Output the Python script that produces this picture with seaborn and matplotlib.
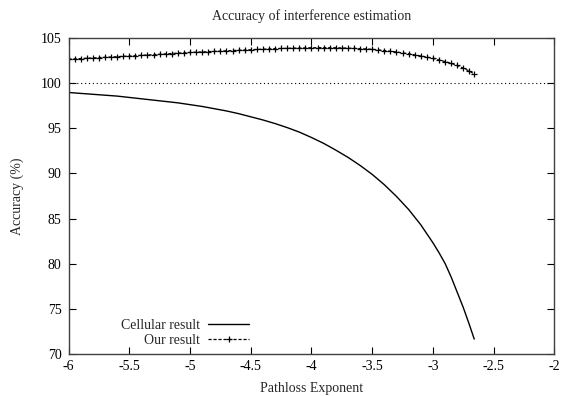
import matplotlib
matplotlib.use("Agg")
import matplotlib.pyplot as plt
import seaborn as sns
import pandas as pd

# Cellular result
cell_x = [-6.0, -5.9, -5.8, -5.7, -5.6, -5.5, -5.4, -5.3, -5.2, -5.1, -5.0,
          -4.9, -4.8, -4.7, -4.6, -4.5, -4.4, -4.3, -4.2, -4.1, -4.0,
          -3.9, -3.8, -3.7, -3.6, -3.5, -3.4, -3.3, -3.2, -3.1, -3.0,
          -2.95, -2.9, -2.85, -2.8, -2.75, -2.7, -2.66]
cell_y = [99.0, 98.9, 98.8, 98.7, 98.6, 98.45, 98.3, 98.15, 98.0, 97.85, 97.65,
          97.45, 97.2, 96.95, 96.65, 96.3, 95.95, 95.55, 95.1, 94.6, 94.0,
          93.35, 92.6, 91.8, 90.9, 89.9, 88.75, 87.45, 86.0, 84.3, 82.3,
          81.2, 80.0, 78.5, 76.8, 75.1, 73.2, 71.6]

# Our result
our_x = [-6.00, -5.95, -5.90, -5.85, -5.80, -5.75, -5.70, -5.65, -5.60, -5.55,
         -5.50, -5.45, -5.40, -5.35, -5.30, -5.25, -5.20, -5.15, -5.10, -5.05,
         -5.00, -4.95, -4.90, -4.85, -4.80, -4.75, -4.70, -4.65, -4.60, -4.55,
         -4.50, -4.45, -4.40, -4.35, -4.30, -4.25, -4.20, -4.15, -4.10, -4.05,
         -4.00, -3.95, -3.90, -3.85, -3.80, -3.75, -3.70, -3.65, -3.60, -3.55,
         -3.50, -3.45, -3.40, -3.35, -3.30, -3.25, -3.20, -3.15, -3.10, -3.05,
         -3.00, -2.95, -2.90, -2.85, -2.80, -2.75, -2.70, -2.66]
our_y = [102.70, 102.74, 102.77, 102.81, 102.84, 102.88, 102.91, 102.95, 102.98, 103.02,
         103.05, 103.09, 103.13, 103.17, 103.21, 103.25, 103.29, 103.33, 103.37, 103.41,
         103.45, 103.48, 103.51, 103.54, 103.57, 103.60, 103.63, 103.66, 103.69, 103.72,
         103.75, 103.78, 103.81, 103.84, 103.87, 103.89, 103.91, 103.93, 103.94, 103.96,
         103.97, 103.98, 103.98, 103.98, 103.97, 103.95, 103.93, 103.90, 103.87, 103.84,
         103.80, 103.73, 103.66, 103.58, 103.50, 103.40, 103.30, 103.18, 103.06, 102.93,
         102.80, 102.62, 102.43, 102.24, 102.00, 101.70, 101.38, 101.05]

ref_level = 100
x_ticks = [-6, -5.5, -5, -4.5, -4, -3.5, -3, -2.5, -2]
x_ticklabels = ["-6", "-5.5", "-5", "-4.5", "-4", "-3.5", "-3", "-2.5", "-2"]
y_ticks = [70, 75, 80, 85, 90, 95, 100, 105]

sns.set_theme(style="ticks")
plt.rcParams["font.family"] = ["Liberation Serif", "DejaVu Serif"]
plt.rcParams["font.size"] = 10

fig = plt.figure(figsize=(5.64, 3.96), dpi=100)
ax = fig.add_axes([0.1215, 0.1073, 0.8615, 0.7955])

df_cell = pd.DataFrame({"x": cell_x, "y": cell_y})
df_our = pd.DataFrame({"x": our_x, "y": our_y})

ax.axhline(ref_level, color="black", lw=0.8, ls=(0, (1, 2.5)), zorder=1)
sns.lineplot(data=df_cell, x="x", y="y", ax=ax, color="black", lw=1.0,
             label="Cellular result", sort=False)
sns.lineplot(data=df_our, x="x", y="y", ax=ax, color="black", lw=0.9,
             ls=(0, (2.5, 1.5)), marker="+", markersize=5, markeredgewidth=0.9,
             markeredgecolor="black", markerfacecolor="black",
             label="Our result", sort=False)

ax.set_xlim(-6, -2)
ax.set_ylim(70, 105)
ax.set_xticks(x_ticks)
ax.set_xticklabels(x_ticklabels)
ax.set_yticks(y_ticks)
ax.tick_params(direction="in", length=5, width=0.8, top=True, right=True,
               labelsize=10, colors="black", pad=5)
for s in ax.spines.values():
    s.set_color("#404040")
    s.set_linewidth(1.0)

ax.set_title("Accuracy of interference estimation", fontsize=10, pad=13)
ax.set_xlabel("Pathloss Exponent", fontsize=10, labelpad=6)
ax.set_ylabel("Accuracy (%)", fontsize=10, labelpad=12)

leg = ax.legend(loc="lower right", bbox_to_anchor=(0.385, 0.0), frameon=False,
                markerfirst=False, handlelength=2.9, labelspacing=0.1,
                borderpad=0.2, borderaxespad=0.3, handletextpad=0.6, fontsize=10)

fig.savefig("out.png", dpi=100)
